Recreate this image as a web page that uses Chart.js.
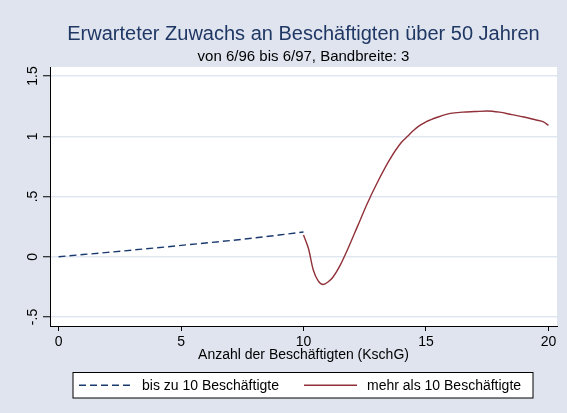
<!DOCTYPE html>
<html>
<head>
<meta charset="utf-8">
<script src="https://cdn.jsdelivr.net/npm/chart.js@4"></script>
<style>
  body { margin: 0; background: #dfe4ef; }
  canvas { display: block; }
</style>
</head>
<body>
<canvas id="chart" width="567" height="413"></canvas>
<script>
// Data
const titleText = 'Erwarteter Zuwachs an Beschäftigten über 50 Jahren';
const subtitleText = 'von 6/96 bis 6/97, Bandbreite: 3';
const xAxisTitle = 'Anzahl der Beschäftigten (KschG)';

const xTicks = [0, 5, 10, 15, 20];
const yTicks = [-0.5, 0, 0.5, 1, 1.5];
const yTickLabels = ['-.5', '0', '.5', '1', '1.5'];

const smallLabel = 'bis zu 10 Beschäftigte';
const smallX = [0, 1, 2, 3, 4, 5, 6, 7, 8, 9, 10];
const smallY = [0, 0.018, 0.036, 0.055, 0.074, 0.094, 0.114, 0.134, 0.156, 0.18, 0.205];

const bigLabel = 'mehr als 10 Beschäftigte';
const bigX = [10.0, 10.2, 10.4, 10.6, 10.8, 11.0, 11.2, 11.5, 11.8, 12.2, 12.6, 13.0, 13.5, 14.0, 14.25, 14.5, 14.75, 15.0, 15.5, 16.0, 16.5, 17.0, 17.5, 18.0, 18.5, 19.0, 19.5, 19.8, 20.0];
const bigY = [0.18, 0.07, -0.11, -0.2, -0.23, -0.21, -0.17, -0.07, 0.06, 0.25, 0.44, 0.61, 0.8, 0.95, 1.0, 1.05, 1.09, 1.12, 1.16, 1.19, 1.2, 1.205, 1.21, 1.2, 1.18, 1.16, 1.135, 1.12, 1.09];

const FONT = "'Liberation Sans', Arial, sans-serif";
const NAVY = '#1a3a6e';
const MAROON = '#903038';

function toPoints(xs, ys) {
    return xs.map((x, i) => ({ x: x, y: ys[i] }));
}

// white plot region + titles, y labels, axis title and legend box
const decorations = {
    id: 'decorations',
    beforeDraw(chart) {
        const ctx = chart.ctx;
        const a = chart.chartArea;
        ctx.save();
        ctx.fillStyle = '#dfe4ef';
        ctx.fillRect(0, 0, chart.width, chart.height);
        ctx.fillStyle = '#ffffff';
        ctx.fillRect(a.left, a.top, a.right - a.left, a.bottom - a.top);
        ctx.restore();
    },
    afterDraw(chart) {
        const ctx = chart.ctx;
        const a = chart.chartArea;
        const cx = (a.left + a.right) / 2;
        const yScale = chart.scales.y;
        ctx.save();
        ctx.textAlign = 'center';
        ctx.textBaseline = 'alphabetic';

        ctx.fillStyle = '#1f3763';
        ctx.font = '20px ' + FONT;
        ctx.fillText(titleText, cx, 40);

        ctx.fillStyle = '#000';
        ctx.font = '15px ' + FONT;
        ctx.fillText(subtitleText, cx, 61);

        ctx.font = '14px ' + FONT;
        ctx.fillText(xAxisTitle, cx, 359);

        // rotated y tick labels
        ctx.textBaseline = 'middle';
        yTicks.forEach((v, i) => {
            ctx.save();
            ctx.translate(33, yScale.getPixelForValue(v));
            ctx.rotate(-Math.PI / 2);
            ctx.fillText(yTickLabels[i], 0, 0);
            ctx.restore();
        });

        // legend
        const bx = 73, by = 372.5, bw = 460, bh = 25.5;
        ctx.fillStyle = '#fff';
        ctx.fillRect(bx, by, bw, bh);
        ctx.strokeStyle = '#000';
        ctx.lineWidth = 1;
        ctx.strokeRect(bx, by, bw, bh);
        const ly = by + bh / 2;
        const items = [
            { ds: chart.data.datasets[0], x0: 79, x1: 132, tx: 142 },
            { ds: chart.data.datasets[1], x0: 304, x1: 357, tx: 367 }
        ];
        items.forEach(it => {
            ctx.beginPath();
            ctx.strokeStyle = it.ds.borderColor;
            ctx.lineWidth = it.ds.borderWidth;
            ctx.setLineDash(it.ds.borderDash || []);
            ctx.moveTo(it.x0, ly);
            ctx.lineTo(it.x1, ly);
            ctx.stroke();
            ctx.setLineDash([]);
            ctx.fillStyle = '#000';
            ctx.textAlign = 'left';
            ctx.fillText(it.ds.label, it.tx, ly + 1);
        });
        ctx.restore();
    }
};

new Chart(document.getElementById('chart'), {
    type: 'line',
    data: {
        datasets: [{
            label: smallLabel,
            data: toPoints(smallX, smallY),
            borderColor: NAVY,
            borderWidth: 1.4,
            borderDash: [7, 4],
            pointRadius: 0,
            fill: false
        }, {
            label: bigLabel,
            data: toPoints(bigX, bigY),
            borderColor: MAROON,
            borderWidth: 1.4,
            cubicInterpolationMode: 'monotone',
            pointRadius: 0,
            fill: false
        }]
    },
    options: {
        responsive: false,
        animation: false,
        devicePixelRatio: 1,
        layout: { padding: { top: 67, right: 10, left: 0, bottom: 0 } },
        plugins: {
            legend: { display: false },
            title: { display: false },
            tooltip: { enabled: false }
        },
        scales: {
            x: {
                type: 'linear',
                min: -0.35,
                max: 20.35,
                afterBuildTicks: s => { s.ticks = xTicks.map(v => ({ value: v })); },
                afterFit: s => { s.height = 87; },
                grid: { drawOnChartArea: false, drawTicks: true, tickLength: 5, color: '#000' },
                border: { display: true, color: '#000', width: 1 },
                ticks: { color: '#000', font: { size: 14, family: FONT }, padding: 3, maxRotation: 0 }
            },
            y: {
                type: 'linear',
                min: -0.575,
                max: 1.575,
                afterBuildTicks: s => { s.ticks = yTicks.map(v => ({ value: v })); },
                afterFit: s => { s.width = 50; },
                grid: { color: '#e1e7f0', lineWidth: 1.5, drawTicks: true, tickLength: 7, tickColor: '#000', tickWidth: 1 },
                border: { display: true, color: '#000', width: 1 },
                ticks: { display: false }
            }
        }
    },
    plugins: [decorations]
});
</script>
</body>
</html>
